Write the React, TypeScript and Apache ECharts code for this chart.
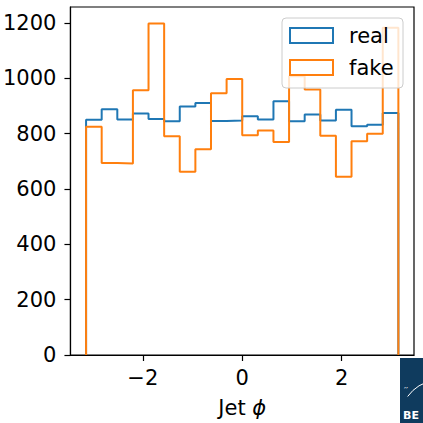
import React, { useEffect, useRef } from "react";
import * as echarts from "echarts";

const NBINS = 20;
const binEdges: number[] = Array.from({ length: NBINS + 1 }, (_, k) => -Math.PI + (k * 2 * Math.PI) / NBINS);

const realCounts = [850, 888, 851, 873, 853, 845, 898, 911, 846, 848, 863, 851, 917, 845, 869, 848, 887, 827, 832, 875];
const fakeCounts = [825, 694, 692, 957, 1198, 791, 662, 744, 946, 998, 794, 812, 770, 1008, 960, 793, 644, 773, 800, 1183];

const xTicks = [-2, 0, 2];
const yTicks = [0, 200, 400, 600, 800, 1000, 1200];
const seriesNames = ["real", "fake"];
const colors = ["#1f77b4", "#ff7f0e"];

function stepOutline(vals: number[]): number[][] {
  const pts: number[][] = [[binEdges[0], 0]];
  vals.forEach((v, i) => {
    pts.push([binEdges[i], v]);
    pts.push([binEdges[i + 1], v]);
  });
  pts.push([binEdges[vals.length], 0]);
  return pts;
}

const FONT = "DejaVu Sans";
const FS = 21;

export default function App() {
  const ref = useRef<HTMLDivElement>(null);
  useEffect(() => {
    document.body.style.margin = "0";
    if (!ref.current) return;
    const chart = echarts.init(ref.current, null, { renderer: "svg" });
    const fmt = (v: number) => (v < 0 ? "\u2212" + Math.abs(v) : String(v));
    const legendGraphics: any[] = [
      {
        type: "rect",
        shape: { x: 282, y: 18, width: 121, height: 70, r: 4 },
        style: { fill: "rgba(255,255,255,0.8)", stroke: "#cccccc", lineWidth: 1 },
        z: 50,
      },
    ];
    seriesNames.forEach((n, i) => {
      const y = 28 + i * 32;
      legendGraphics.push({
        type: "rect",
        shape: { x: 290, y, width: 43, height: 15 },
        style: { fill: "none", stroke: colors[i], lineWidth: 2 },
        z: 51,
      });
      legendGraphics.push({
        type: "text",
        x: 349,
        y: y + 7.5,
        style: { text: n, fill: "#000", fontSize: FS, fontFamily: FONT, verticalAlign: "middle", align: "left" },
        z: 51,
      });
    });
    chart.setOption({
      animation: false,
      backgroundColor: "#ffffff",
      textStyle: { fontFamily: FONT },
      grid: { left: 68, right: 9, top: 7, bottom: 68, show: true, borderColor: "#000", borderWidth: 1.2, backgroundColor: "transparent" },
      xAxis: {
        type: "value",
        min: -3.456,
        max: 3.456,
        axisLine: { show: true, onZero: false, lineStyle: { color: "#000", width: 1.2 } },
        axisTick: { show: true, length: 6, customValues: xTicks, lineStyle: { color: "#000", width: 1.2 } },
        axisLabel: { customValues: xTicks, formatter: fmt, fontSize: FS, color: "#000", margin: 12, fontFamily: FONT },
        splitLine: { show: false },
        name: "Jet {i|ϕ}",
        nameLocation: "middle",
        nameGap: 42,
        nameTextStyle: { fontSize: FS, color: "#000", fontFamily: FONT, rich: { i: { fontSize: FS, fontStyle: "italic", fontFamily: FONT, color: "#000" } } },
      },
      yAxis: {
        type: "value",
        min: 0,
        max: 1258,
        axisLine: { show: true, onZero: false, lineStyle: { color: "#000", width: 1.2 } },
        axisTick: { show: true, length: 6, customValues: yTicks, lineStyle: { color: "#000", width: 1.2 } },
        axisLabel: { customValues: yTicks, formatter: (v: number) => String(v), fontSize: FS, color: "#000", margin: 14, fontFamily: FONT },
        splitLine: { show: false },
      },
      series: [realCounts, fakeCounts].map((vals, i) => ({
        name: seriesNames[i],
        type: "line",
        data: stepOutline(vals),
        showSymbol: false,
        symbol: "none",
        lineStyle: { color: colors[i], width: 2 },
        itemStyle: { color: colors[i] },
        z: 2 + i,
      })),
      graphic: [
        ...legendGraphics,
        { type: "rect", left: 400, top: 358, shape: { width: 23, height: 65 }, style: { fill: "#0f3b5e" }, z: 20 },
        { type: "arc", x: 440, y: 420, shape: { r: 40, startAngle: Math.PI * 1.2, endAngle: Math.PI * 1.45 }, style: { stroke: "#ffffff", lineWidth: 1, fill: "none" }, z: 21 },
        { type: "text", left: 404, top: 386, style: { text: "\u2032\u2032", fill: "#ffffff", fontSize: 9, fontFamily: FONT }, z: 21 },
        { type: "text", left: 403, top: 410, style: { text: "BE", fill: "#ffffff", fontSize: 11, fontWeight: "bold", fontFamily: FONT }, z: 21 },
      ],
    });
    return () => chart.dispose();
  }, []);
  return <div ref={ref} style={{ width: 423, height: 423 }} />;
}
